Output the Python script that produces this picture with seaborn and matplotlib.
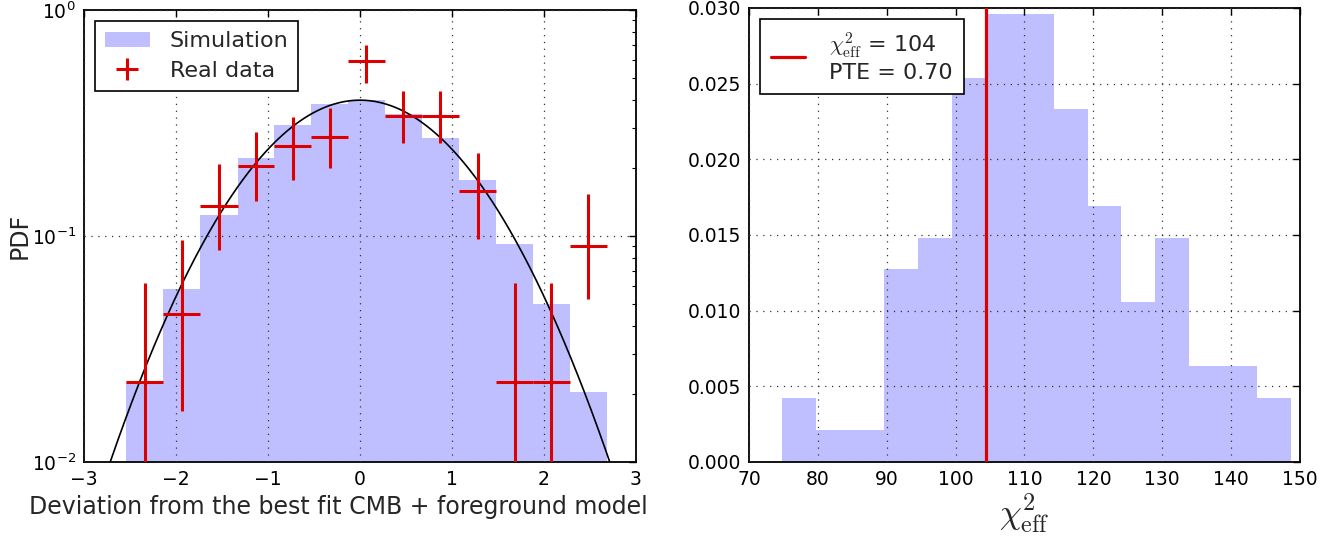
import numpy as np
import matplotlib
matplotlib.use("Agg")
import matplotlib.pyplot as plt
import seaborn as sns
from matplotlib.patches import Patch
from matplotlib.ticker import FormatStrFormatter, LogLocator

# ---------------- data ----------------
# Left panel: simulated deviation histogram (PDF, log scale)
sim_edges = [-2.54, -2.14, -1.74, -1.33, -0.93, -0.53, -0.13, 0.27, 0.67,
             1.08, 1.48, 1.88, 2.28, 2.68]
sim_pdf = [0.0227, 0.0583, 0.124, 0.221, 0.311, 0.383, 0.399, 0.345, 0.271,
           0.177, 0.0918, 0.050, 0.0205]

# Real data points (value, upper bound, lower bound) at bin centres
real_pdf = [0.0227, 0.0453, 0.136, 0.205, 0.249, 0.273, 0.593, 0.339, 0.339,
            0.158, 0.0227, 0.0227, 0.0903]
real_upper = [0.062, 0.096, 0.209, 0.288, 0.336, 0.368, 0.699, 0.436, 0.436,
              0.232, 0.062, 0.062, 0.153]
real_lower = [0.0, 0.0168, 0.0867, 0.143, 0.177, 0.200, 0.474, 0.257, 0.257,
              0.0966, 0.0, 0.0, 0.0528]

# Reference Gaussian model
gauss_mu = 0.0
gauss_sigma = 1.0

# Right panel: chi2_eff histogram
chi_edges = [74.78, 79.71, 84.64, 89.57, 94.50, 99.43, 104.36, 109.29, 114.22,
             119.15, 124.08, 129.01, 133.94, 138.87, 143.80, 148.73]
chi_pdf = [0.00422, 0.00211, 0.00211, 0.01272, 0.01481, 0.0254, 0.02962,
           0.02962, 0.0233, 0.01692, 0.01057, 0.01481, 0.00633, 0.00633,
           0.00422]
chi_obs = 104.4
pte_obs = "0.70"
chi_obs_label = "104"

left_xticks = [-3, -2, -1, 0, 1, 2, 3]
right_xticks = [70, 80, 90, 100, 110, 120, 130, 140, 150]
right_yticks = [0.000, 0.005, 0.010, 0.015, 0.020, 0.025, 0.030]

# ---------------- style ----------------
sns.set_style("white")
plt.rcParams["font.family"] = ["DejaVu Sans"]
plt.rcParams["mathtext.fontset"] = "cm"
plt.rcParams["axes.unicode_minus"] = True

RED = "#dd0000"
FILL = "blue"
FILL_ALPHA = 0.25
TICK_FS = 13.5
LAB_FS = 17
LEG_FS = 16

fig = plt.figure(figsize=(13.42, 5.36), dpi=100)
axL = fig.add_axes([0.0626, 0.1381, 0.4113, 0.8433])
axR = fig.add_axes([0.5581, 0.1381, 0.4106, 0.8470])


def style_axes(ax):
    for s in ax.spines.values():
        s.set_linewidth(1.3)
        s.set_color("black")
    ax.tick_params(which="both", direction="in", top=True, right=True,
                   labelsize=TICK_FS, colors="black", pad=6)
    ax.tick_params(which="major", length=5, width=1)
    ax.tick_params(which="minor", length=2.8, width=0.8)
    ax.grid(True, which="major", linestyle=(0, (1, 4.5)), color="#333333",
            linewidth=0.9)
    ax.set_axisbelow(False)


# ---------------- left panel ----------------
sim_centers = [(a + b) / 2 for a, b in zip(sim_edges[:-1], sim_edges[1:])]
sns.histplot(x=sim_centers, weights=sim_pdf, bins=sim_edges, stat="count",
             color=FILL, alpha=FILL_ALPHA, linewidth=0, edgecolor="none",
             ax=axL)

xs = np.linspace(-3, 3, 400)
gauss = np.exp(-0.5 * ((xs - gauss_mu) / gauss_sigma) ** 2) / (gauss_sigma * np.sqrt(2 * np.pi))
sns.lineplot(x=xs, y=gauss, color="black", linewidth=1.2, ax=axL)

real_y = np.array(real_pdf)
yerr = np.vstack([real_y - np.array(real_lower), np.array(real_upper) - real_y])
half_w = [(b - a) / 2 for a, b in zip(sim_edges[:-1], sim_edges[1:])]
eb = axL.errorbar(sim_centers, real_y, xerr=half_w, yerr=yerr, fmt="none",
                  ecolor=RED, elinewidth=2.2, capsize=0, zorder=5)

axL.set_yscale("log")
axL.set_xlim(-3, 3)
axL.set_ylim(1e-2, 1)
axL.set_xticks(left_xticks)
axL.yaxis.set_major_locator(LogLocator(base=10, numticks=10))
axL.yaxis.set_minor_locator(LogLocator(base=10, subs=np.arange(2, 10), numticks=20))
axL.set_xlabel("Deviation from the best fit CMB + foreground model", fontsize=LAB_FS)
axL.xaxis.set_label_coords(0.46, -0.073)
axL.set_ylabel("PDF", fontsize=LAB_FS, labelpad=0)
style_axes(axL)

hL = [Patch(facecolor=FILL, alpha=FILL_ALPHA, edgecolor="none"), eb]
legL = axL.legend(hL, ["Simulation", "Real data"], loc="upper left",
                  fontsize=LEG_FS, frameon=True, fancybox=False,
                  edgecolor="black", framealpha=1, borderaxespad=0.5,
                  handlelength=2.0, borderpad=0.45, labelspacing=0.45,
                  handletextpad=0.9)
legL.get_frame().set_linewidth(1.2)

# ---------------- right panel ----------------
chi_centers = [(a + b) / 2 for a, b in zip(chi_edges[:-1], chi_edges[1:])]
sns.histplot(x=chi_centers, weights=chi_pdf, bins=chi_edges, stat="count",
             color=FILL, alpha=FILL_ALPHA, linewidth=0, edgecolor="none",
             ax=axR)
vl = axR.axvline(chi_obs, color=RED, linewidth=2.3, zorder=5)

axR.set_xlim(70, 150)
axR.set_ylim(0, 0.030)
axR.set_xticks(right_xticks)
axR.set_yticks(right_yticks)
axR.yaxis.set_major_formatter(FormatStrFormatter("%.3f"))
axR.set_xlabel(r"$\chi^2_{\rm eff}$", fontsize=25, labelpad=2)
axR.set_ylabel("")
style_axes(axR)

legR = axR.legend([vl], [r"$\chi^2_{\rm eff}$ = " + chi_obs_label + "\nPTE = " + pte_obs],
                  loc="upper left", fontsize=LEG_FS, frameon=True,
                  fancybox=False, edgecolor="black", framealpha=1,
                  borderaxespad=0.5, handlelength=1.5, borderpad=0.5,
                  handletextpad=1.1)
legR.get_frame().set_linewidth(1.2)

fig.savefig("out.png", dpi=100)
